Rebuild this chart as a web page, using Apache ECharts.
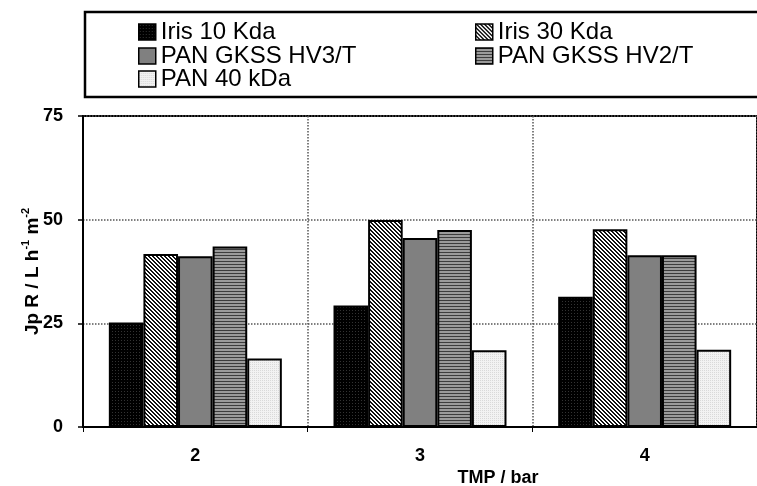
<!DOCTYPE html>
<html><head><meta charset="utf-8">
<script src="https://cdn.jsdelivr.net/npm/echarts@6/dist/echarts.min.js"></script>
<style>html,body{margin:0;padding:0;background:#fff}#c{width:757px;height:486px}</style>
</head><body><div id="c"></div><script>
const categories = ['2', '3', '4'];
const seriesNames = ['Iris 10 Kda', 'Iris 30 Kda', 'PAN GKSS HV3/T', 'PAN GKSS HV2/T', 'PAN 40 kDa'];
const iris10 = [25.2, 29.3, 31.4];
const iris30 = [41.7, 49.9, 47.7];
const panHV3 = [41.2, 45.6, 41.4];
const panHV2 = [43.5, 47.5, 41.4];
const pan40 = [16.5, 18.5, 18.6];
const yMin = 0, yMax = 75, yStep = 25;

const FONT = "'Liberation Sans', Arial, sans-serif";

function pat(w, h, draw) {
  const c = document.createElement('canvas');
  c.width = w; c.height = h;
  const g = c.getContext('2d');
  draw(g, w, h);
  return { image: c, repeat: 'repeat' };
}
const pBlack = pat(3, 3, (g) => { g.fillStyle = '#000'; g.fillRect(0, 0, 3, 3); g.fillStyle = '#333'; g.fillRect(1, 1, 1, 1); });
const pDiag = pat(4, 4, (g) => {
  g.fillStyle = '#fff'; g.fillRect(0, 0, 4, 4); g.fillStyle = '#111';
  for (let i = 0; i < 4; i++) { g.fillRect(i, i, 1, 1); g.fillRect((i + 1) % 4, i, 1, 1); }
});
const pGray = '#808080';
const pHoriz = pat(2, 3, (g) => { g.fillStyle = '#9a9a9a'; g.fillRect(0, 0, 2, 3); g.fillStyle = '#3c3c3c'; g.fillRect(0, 0, 2, 1); });
const pLight = pat(2, 2, (g) => { g.fillStyle = '#f2f2f2'; g.fillRect(0, 0, 2, 2); g.fillStyle = '#d9d9d9'; g.fillRect(0, 0, 1, 1); });

const seriesData = [iris10, iris30, panHV3, panHV2, pan40];
const fills = [pBlack, pDiag, pGray, pHoriz, pLight];

const legendPos = [[138, 32], [475, 32], [138, 56], [475, 56], [138, 79]];

const chart = echarts.init(document.getElementById('c'), null, { renderer: 'canvas' });
chart.setOption({
  animation: false,
  backgroundColor: '#fff',
  textStyle: { fontFamily: FONT },
  grid: { left: 83, top: 116, width: 683, height: 311, show: true, borderColor: '#000', borderWidth: 2, backgroundColor: 'transparent' },
  legend: seriesNames.map((n, i) => ({
    data: [n], left: legendPos[i][0], top: legendPos[i][1] - 12, padding: 0,
    itemWidth: 17, itemHeight: 16, icon: 'rect', selectedMode: false,
    itemStyle: { borderColor: '#000', borderWidth: 1.5 },
    textStyle: { fontFamily: FONT, fontSize: 24, color: '#000', lineHeight: 24 }
  })),
  xAxis: {
    type: 'category', data: categories,
    axisLine: { lineStyle: { color: '#000', width: 2 } },
    axisTick: { show: true, length: 5, lineStyle: { color: '#000', width: 1 } },
    axisLabel: { fontSize: 18, fontWeight: 'bold', color: '#000', margin: 20, fontFamily: FONT },
    splitLine: { show: true, lineStyle: { color: '#555', type: 'dotted', width: 1.5 } }
  },
  yAxis: {
    type: 'value', min: yMin, max: yMax, interval: yStep,
    name: '{a|Jp R / L h}{s|-1}{a| m}{s|-2}',
    nameLocation: 'middle', nameGap: 41, nameRotate: 90, nameMoveOverlap: false,
    nameTextStyle: {
      rich: {
        a: { fontSize: 19, fontWeight: 'bold', color: '#000', fontFamily: FONT, lineHeight: 22, verticalAlign: 'bottom' },
        s: { fontSize: 11, fontWeight: 'bold', color: '#000', fontFamily: FONT, verticalAlign: 'top', lineHeight: 22 }
      }
    },
    axisLine: { show: true, lineStyle: { color: '#000', width: 2 } },
    axisTick: { show: true, length: 5, lineStyle: { color: '#000', width: 1.5 } },
    axisLabel: { fontSize: 18, fontWeight: 'bold', color: '#000', margin: 20, fontFamily: FONT },
    splitLine: { show: true, lineStyle: { color: '#555', type: 'dotted', width: 1.5 } }
  },
  series: seriesNames.map((n, i) => ({
    name: n, type: 'bar', data: seriesData[i],
    barGap: '0%', barCategoryGap: '23%',
    itemStyle: { color: fills[i], borderColor: '#000', borderWidth: 2 }
  })),
  graphic: [
    { type: 'rect', z: 100, shape: { x: 85, y: 12, width: 700, height: 85 }, style: { fill: 'none', stroke: '#000', lineWidth: 2.5 } },
    { type: 'text', z: 100, x: 498, y: 478, style: { text: 'TMP / bar', font: "bold 18px 'Liberation Sans', Arial, sans-serif", fill: '#000', textAlign: 'center', textVerticalAlign: 'middle' } }
  ]
});
</script></body></html>
